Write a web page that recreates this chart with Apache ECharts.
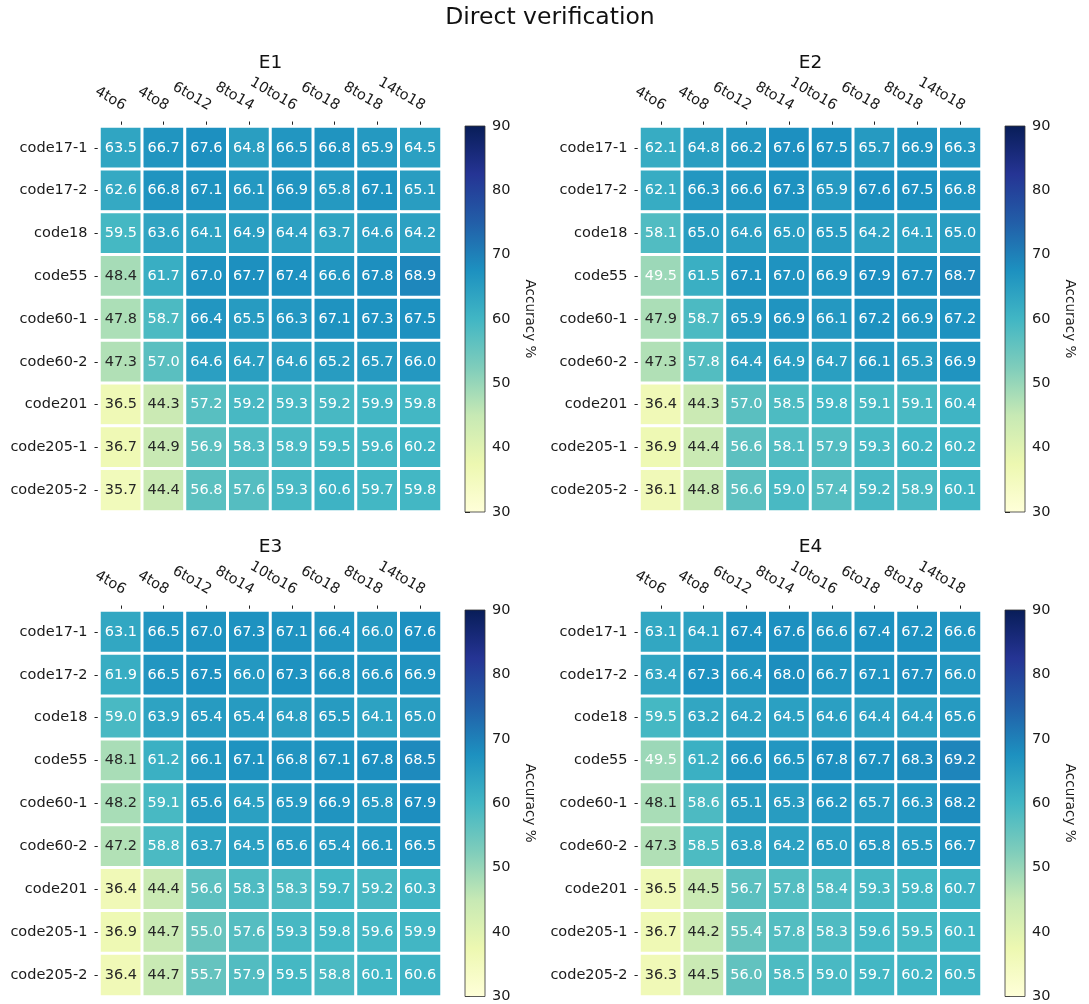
<!DOCTYPE html>
<html>
<head>
<meta charset="utf-8">
<title>Direct verification</title>
<script src="https://cdn.jsdelivr.net/npm/echarts@6/dist/echarts.min.js"></script>
<style>
  html, body { margin: 0; padding: 0; background: #fff; }
  #chart { width: 1089px; height: 1004px; }
</style>
</head>
<body>
<div id="chart"></div>
<script>
// Column / row categories shared by the four panels
const cols = ['4to6', '4to8', '6to12', '8to14', '10to16', '6to18', '8to18', '14to18'];
const rows = ['code17-1', 'code17-2', 'code18', 'code55', 'code60-1', 'code60-2', 'code201', 'code205-1', 'code205-2'];
const panelNames = ['E1', 'E2', 'E3', 'E4'];
const colorbarTicks = [30, 40, 50, 60, 70, 80, 90];

// Accuracy (%) per panel, one row per code, one entry per column
const E1 = [
  [63.5, 66.7, 67.6, 64.8, 66.5, 66.8, 65.9, 64.5],
  [62.6, 66.8, 67.1, 66.1, 66.9, 65.8, 67.1, 65.1],
  [59.5, 63.6, 64.1, 64.9, 64.4, 63.7, 64.6, 64.2],
  [48.4, 61.7, 67.0, 67.7, 67.4, 66.6, 67.8, 68.9],
  [47.8, 58.7, 66.4, 65.5, 66.3, 67.1, 67.3, 67.5],
  [47.3, 57.0, 64.6, 64.7, 64.6, 65.2, 65.7, 66.0],
  [36.5, 44.3, 57.2, 59.2, 59.3, 59.2, 59.9, 59.8],
  [36.7, 44.9, 56.9, 58.3, 58.9, 59.5, 59.6, 60.2],
  [35.7, 44.4, 56.8, 57.6, 59.3, 60.6, 59.7, 59.8]
];
const E2 = [
  [62.1, 64.8, 66.2, 67.6, 67.5, 65.7, 66.9, 66.3],
  [62.1, 66.3, 66.6, 67.3, 65.9, 67.6, 67.5, 66.8],
  [58.1, 65.0, 64.6, 65.0, 65.5, 64.2, 64.1, 65.0],
  [49.5, 61.5, 67.1, 67.0, 66.9, 67.9, 67.7, 68.7],
  [47.9, 58.7, 65.9, 66.9, 66.1, 67.2, 66.9, 67.2],
  [47.3, 57.8, 64.4, 64.9, 64.7, 66.1, 65.3, 66.9],
  [36.4, 44.3, 57.0, 58.5, 59.8, 59.1, 59.1, 60.4],
  [36.9, 44.4, 56.6, 58.1, 57.9, 59.3, 60.2, 60.2],
  [36.1, 44.8, 56.6, 59.0, 57.4, 59.2, 58.9, 60.1]
];
const E3 = [
  [63.1, 66.5, 67.0, 67.3, 67.1, 66.4, 66.0, 67.6],
  [61.9, 66.5, 67.5, 66.0, 67.3, 66.8, 66.6, 66.9],
  [59.0, 63.9, 65.4, 65.4, 64.8, 65.5, 64.1, 65.0],
  [48.1, 61.2, 66.1, 67.1, 66.8, 67.1, 67.8, 68.5],
  [48.2, 59.1, 65.6, 64.5, 65.9, 66.9, 65.8, 67.9],
  [47.2, 58.8, 63.7, 64.5, 65.6, 65.4, 66.1, 66.5],
  [36.4, 44.4, 56.6, 58.3, 58.3, 59.7, 59.2, 60.3],
  [36.9, 44.7, 55.0, 57.6, 59.3, 59.8, 59.6, 59.9],
  [36.4, 44.7, 55.7, 57.9, 59.5, 58.8, 60.1, 60.6]
];
const E4 = [
  [63.1, 64.1, 67.4, 67.6, 66.6, 67.4, 67.2, 66.6],
  [63.4, 67.3, 66.4, 68.0, 66.7, 67.1, 67.7, 66.0],
  [59.5, 63.2, 64.2, 64.5, 64.6, 64.4, 64.4, 65.6],
  [49.5, 61.2, 66.6, 66.5, 67.8, 67.7, 68.3, 69.2],
  [48.1, 58.6, 65.1, 65.3, 66.2, 65.7, 66.3, 68.2],
  [47.3, 58.5, 63.8, 64.2, 65.0, 65.8, 65.5, 66.7],
  [36.5, 44.5, 56.7, 57.8, 58.4, 59.3, 59.8, 60.7],
  [36.7, 44.2, 55.4, 57.8, 58.3, 59.6, 59.5, 60.1],
  [36.3, 44.5, 56.0, 58.5, 59.0, 59.7, 60.2, 60.5]
];
const panels = [E1, E2, E3, E4];

// YlGnBu ramp over the 30–90 range
const palette = ['#ffffd9', '#edf8b1', '#c7e9b4', '#7fcdbb', '#41b6c4', '#1d91c0', '#225ea8', '#253494', '#081d58'];
const vMin = 30, vMax = 90;
const FONT = 'DejaVu Sans';

// Panel frames: heatmap box and its colorbar box
const heatBoxes = [
  { left: 99.5, top: 126.5, width: 342, height: 385 },
  { left: 639.5, top: 126.5, width: 342, height: 385 },
  { left: 99.5, top: 610.5, width: 342, height: 386 },
  { left: 639.5, top: 610.5, width: 342, height: 386 }
];
const barBoxes = [
  { left: 465, top: 126, width: 20, height: 386 },
  { left: 1005, top: 126, width: 20, height: 386 },
  { left: 465, top: 610, width: 20, height: 387 },
  { left: 1005, top: 610, width: 20, height: 387 }
];

const grids = [], xAxes = [], yAxes = [], series = [], graphics = [];

graphics.push({
  type: 'text', x: 550, y: 18,
  style: { text: 'Direct verification', fontSize: 23.5, fontFamily: FONT, fill: '#111', align: 'center', verticalAlign: 'middle' }
});

panels.forEach((mat, p) => {
  const hb = heatBoxes[p];
  const bb = barBoxes[p];
  const gHeat = grids.length;
  grids.push(Object.assign({ containLabel: false }, hb));
  const gBar = grids.length;
  grids.push(Object.assign({ containLabel: false }, bb));

  // subplot title
  graphics.push({
    type: 'text', x: hb.left + hb.width / 2, y: hb.top - 63,
    style: { text: panelNames[p], fontSize: 18.5, fontFamily: FONT, fill: '#111', align: 'center', verticalAlign: 'middle' }
  });

  // heatmap axes
  xAxes.push({
    type: 'category', data: cols, gridIndex: gHeat, position: 'top',
    axisLine: { show: false },
    axisTick: { show: true, alignWithLabel: true, length: 5, lineStyle: { color: '#222', width: 1 } },
    axisLabel: {
      interval: 0, rotate: 30, align: 'right', verticalAlign: 'bottom', margin: 13,
      fontSize: 14.5, fontFamily: FONT, color: '#1a1a1a'
    },
    splitLine: { show: false }
  });
  yAxes.push({
    type: 'category', data: rows, gridIndex: gHeat, inverse: true,
    axisLine: { show: false },
    axisTick: { show: true, alignWithLabel: true, length: 5, lineStyle: { color: '#222', width: 1 } },
    axisLabel: { interval: 0, margin: 12, fontSize: 14.5, fontFamily: FONT, color: '#1a1a1a' },
    splitLine: { show: false }
  });

  // colorbar axes
  xAxes.push({ type: 'value', gridIndex: gBar, min: 0, max: 1, show: false });
  yAxes.push({
    type: 'value', gridIndex: gBar, min: vMin, max: vMax, interval: 10, position: 'right',
    axisLine: { show: false },
    axisTick: { show: true, length: 5, lineStyle: { color: '#222', width: 1 } },
    axisLabel: { margin: 7, fontSize: 14.5, fontFamily: FONT, color: '#1a1a1a', formatter: v => colorbarTicks.includes(v) ? String(v) : '' },
    splitLine: { show: false },
    name: 'Accuracy %', nameLocation: 'middle', nameRotate: -90, nameGap: 37,
    nameTextStyle: { fontSize: 13.5, fontFamily: FONT, color: '#1a1a1a' }
  });

  // heatmap cells
  const data = [];
  mat.forEach((row, r) => {
    row.forEach((v, c) => {
      data.push({
        value: [c, r, v],
        label: { color: v < 49.5 ? '#262626' : '#ffffff' }
      });
    });
  });
  series.push({
    type: 'heatmap', xAxisIndex: xAxes.length - 2, yAxisIndex: yAxes.length - 2,
    data: data,
    itemStyle: { borderColor: '#ffffff', borderWidth: 3 },
    label: { show: true, fontSize: 14.5, fontFamily: FONT, formatter: d => d.value[2].toFixed(1) },
    emphasis: { disabled: true }
  });

  // colorbar gradient
  series.push({
    type: 'custom', xAxisIndex: xAxes.length - 1, yAxisIndex: yAxes.length - 1,
    data: [[0, vMin, vMax]],
    encode: { x: 0, y: [1, 2] },
    silent: true,
    renderItem: (params, api) => {
      const top = api.coord([0, api.value(2)]);
      const bottom = api.coord([1, api.value(1)]);
      const stops = palette.map((col, i) => ({ offset: i / (palette.length - 1), color: col }));
      return {
        type: 'rect',
        shape: { x: top[0], y: top[1], width: bottom[0] - top[0], height: bottom[1] - top[1] },
        style: { fill: new echarts.graphic.LinearGradient(0, 1, 0, 0, stops), stroke: '#333', lineWidth: 0.8 }
      };
    }
  });
});

const heatSeriesIdx = series.map((s, i) => s.type === 'heatmap' ? i : -1).filter(i => i >= 0);

const chart = echarts.init(document.getElementById('chart'), null, { renderer: 'canvas' });
chart.setOption({
  animation: false,
  backgroundColor: '#ffffff',
  textStyle: { fontFamily: FONT },
  grid: grids,
  xAxis: xAxes,
  yAxis: yAxes,
  visualMap: {
    type: 'continuous', show: false, min: vMin, max: vMax,
    seriesIndex: heatSeriesIdx, dimension: 2,
    inRange: { color: palette }
  },
  graphic: graphics,
  series: series
});
</script>
</body>
</html>
